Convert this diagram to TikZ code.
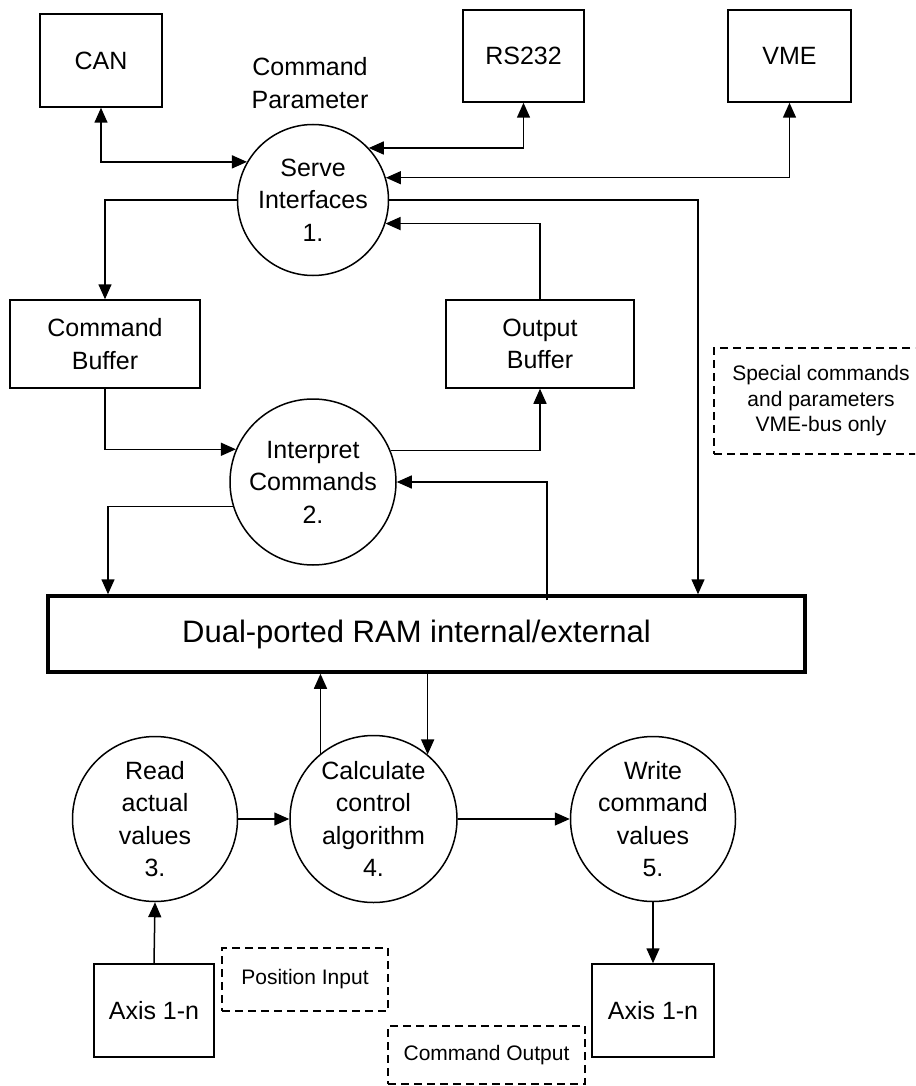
\documentclass[tikz,border=0pt]{standalone}
\usepackage{fontspec}
\setmainfont{Liberation Sans}
\usetikzlibrary{arrows.meta}
\begin{document}
\begin{tikzpicture}[x=1pt,y=-1pt,
  line width=1.5pt,
  >={Triangle[length=15pt,width=13pt]},
  mainfont/.style={font=\fontsize{25}{32.5}\selectfont},
  smallfont/.style={font=\fontsize{21}{25.5}\selectfont},
  box/.style={draw, rectangle, line width=1.5pt, inner sep=0pt, align=center, mainfont},
  proc/.style={draw, circle, line width=1.5pt, inner sep=0pt, align=center, mainfont},
  note/.style={draw, rectangle, line width=1.5pt, dash pattern=on 8pt off 5pt, inner sep=0pt, align=center, smallfont},
  rambox/.style={draw, rectangle, line width=3.5pt, inner sep=0pt, align=center, font=\fontsize{31}{36}\selectfont},
  label/.style={inner sep=0pt, align=center, mainfont}
]
\useasboundingbox (0,0) rectangle (915,1086);
\clip (0,0) rectangle (915,1086);

% interfaces
\node[box, minimum width=122pt, minimum height=93pt] (can) at (101,60.5) {CAN};
\node[box, minimum width=121pt, minimum height=92pt] (rs) at (523.5,56) {RS232};
\node[box, minimum width=123pt, minimum height=92pt] (vme) at (789.5,56) {VME};
\node[label] (cmdpar) at (310,83) {Command\\Parameter};

% processes
\node[proc, minimum size=151pt] (s1) at (313,200) {Serve\\Interfaces\\1.};
\node[proc, minimum size=166pt] (s2) at (313,482) {Interpret\\Commands\\2.};
\node[proc, minimum size=165pt] (s3) at (155,819) {Read\\actual\\values\\3.};
\node[proc, minimum size=167pt] (s4) at (373.5,819) {Calculate\\control\\algorithm\\4.};
\node[proc, minimum size=165pt] (s5) at (653,819) {Write\\command\\values\\5.};

% buffers
\node[box, minimum width=190pt, minimum height=88pt] (cbuf) at (105,344) {Command\\Buffer};
\node[box, minimum width=188pt, minimum height=88pt] (obuf) at (540,344) {Output\\Buffer};

% RAM
\node[rambox, minimum width=757pt, minimum height=76pt] (ram) at (426.5,634) {\hspace*{-20pt}Dual-ported RAM internal/external};

% axes
\node[box, minimum width=120pt, minimum height=93pt] (ax1) at (154,1010.5) {Axis 1-n};
\node[box, minimum width=122pt, minimum height=93pt] (ax2) at (653,1010.5) {Axis 1-n};

% notes
\node[note, minimum width=214pt, minimum height=106pt] (spec) at (821,401) {Special commands\\and parameters\\VME-bus only};
\node[note, minimum width=166pt, minimum height=63pt] (pos) at (305,979.5) {Position Input};
\node[note, minimum width=197pt, minimum height=58pt] (cout) at (486.5,1055) {Command Output};

% interface connectors
\draw[<->] (can.south) |- (s1.150);
\draw[<->] (rs.south) |- (s1.43.5);
\draw[<->] (vme.south) |- (s1.17);

% serve interfaces
\draw[->] (s1.west) -| (cbuf.north);
\draw[->] (s1.east) -| ([xshift=271.5pt]ram.north);
\draw[->] (obuf.north) |- (s1.-18.5);

% interpret
\draw[->] (cbuf.south) |- (s2.157.3);
\draw[->] (s2.22.7) -| (obuf.south);
\draw[->] (s2.197.5) -| ([xshift=-318.5pt]ram.north);
\draw[->] ([xshift=120.5pt,yshift=-6pt]ram.north) |- (s2.east);

% lower chain
\draw[->] (s3.east) -- (s4.west);
\draw[->] (s4.east) -- (s5.west);
\draw[->] (s4.129.8) -- (s4.129.8 |- ram.south);
\draw[->] (ram.south -| s4.50.2) -- (s4.50.2);
\draw[->] (ax1.north) -- (s3.south);
\draw[->] (s5.south) -- (ax2.north);
\end{tikzpicture}
\end{document}
